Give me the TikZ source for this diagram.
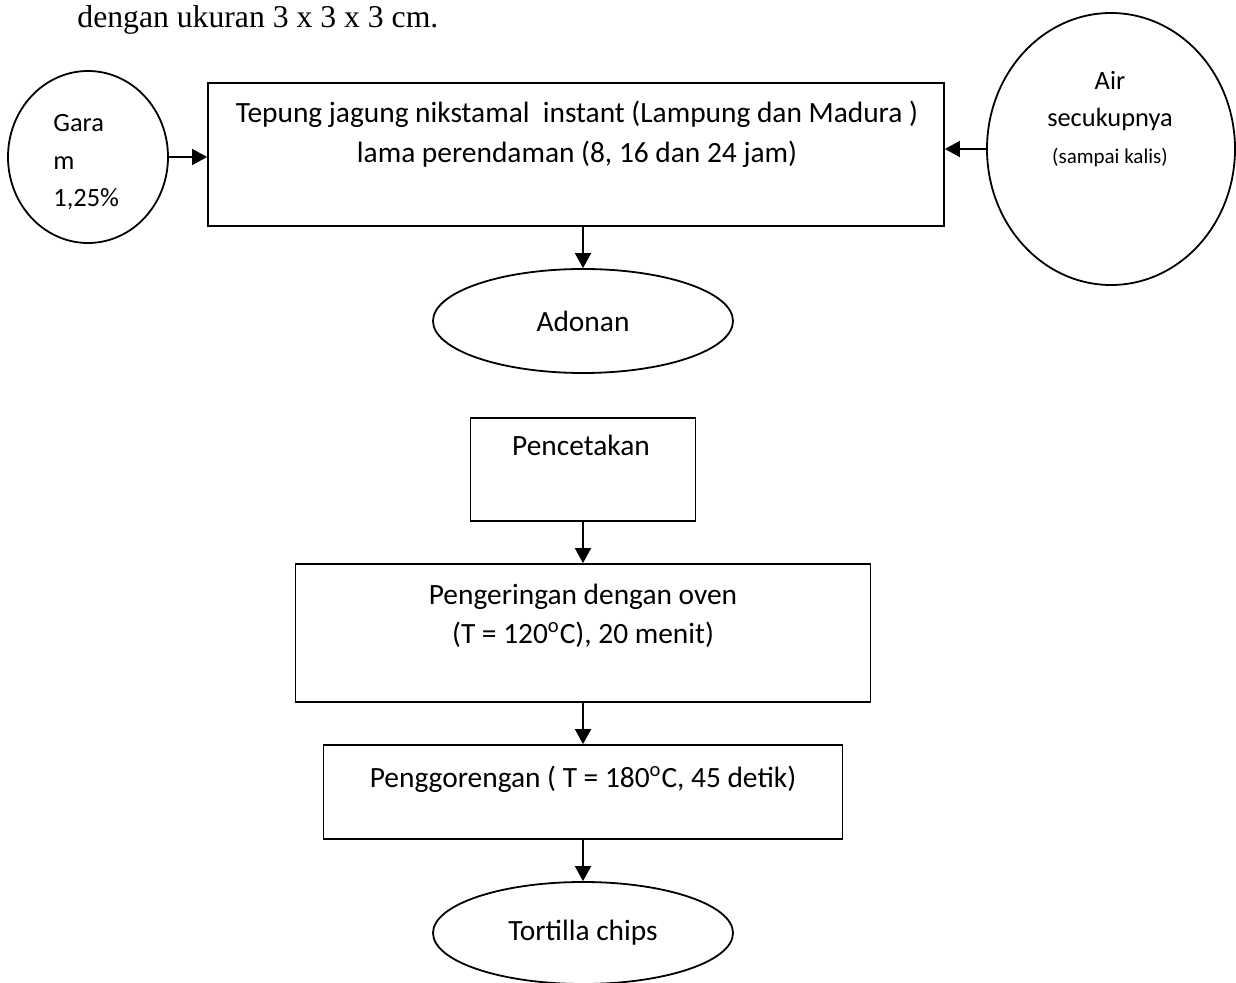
\documentclass[tikz,border=0pt]{standalone}
\usepackage{fontspec}
\setmainfont{Carlito}
\newfontfamily\timesfont{Liberation Serif}
\usetikzlibrary{arrows.meta,shapes.geometric}
\begin{document}
\begin{tikzpicture}[x=0.5pt,y=-0.5pt,
  box/.style={draw,line width=0.9pt,inner sep=0pt},
  oval/.style={draw,ellipse,line width=0.9pt,inner sep=0pt,font=\fontsize{14.7}{20}\selectfont},
  arr/.style={line width=0.9pt,-{Triangle[length=7.5pt,width=8pt]}},
  txt/.style={inner sep=0pt,anchor=base,align=center,font=\fontsize{14.7}{20}\selectfont}]
\useasboundingbox (0,0) rectangle (1236,983);
\node[txt,anchor=base west,font=\timesfont\fontsize{15.85}{19}\selectfont] (judul) at (77,28) {dengan ukuran 3 x 3 x 3 cm.};
% bahan tambahan
\node[oval,minimum width=80pt,minimum height=86pt] (garam) at (88,157) {};
\node[txt,anchor=base west,align=left,font=\fontsize{13.2}{18.75}\selectfont] (garamtxt) at (53,207) {Gara\\m\\1,25\%};
\node[oval,minimum width=124pt,minimum height=136pt] (air) at (1111,149) {};
\node[txt,font=\fontsize{13.2}{18.5}\selectfont] (airtxt) at (1110,164) {Air\\secukupnya\\{\fontsize{10.5}{12}\selectfont (sampai kalis)}};
% alur proses
\node[box,minimum width=368pt,minimum height=71.5pt] (tepung) at (576,154.5) {};
\node[txt] (tepungtxt) at (577,163) {Tepung jagung nikstamal~ instant (Lampung dan Madura )\\lama perendaman (8, 16 dan 24 jam)};
\node[oval,minimum width=150pt,minimum height=52pt] (adonan) at (583,321) {Adonan};
\node[box,minimum width=112.5pt,minimum height=51.5pt] (cetak) at (583,469.5) {};
\node[txt] (cetaktxt) at (581,456) {Pencetakan};
\node[box,minimum width=287.5pt,minimum height=69pt] (oven) at (583,633) {};
\node[txt,font=\fontsize{14.7}{19.5}\selectfont] (oventxt) at (583,643) {Pengeringan dengan oven\\(T = 120\textsuperscript{o}C), 20 menit)};
\node[box,minimum width=259.5pt,minimum height=47pt] (goreng) at (583,792) {};
\node[txt] (gorengtxt) at (583,787) {Penggorengan ( T = 180\textsuperscript{o}C, 45 detik)};
\node[oval,minimum width=150pt,minimum height=51pt] (chips) at (583,933) {Tortilla chips};
% panah
\draw[arr] (garam.east) -- (tepung.west |- garam.east);
\draw[arr] (air.west) -- (tepung.east |- air.west);
\draw[arr] (tepung.south -| adonan.north) -- (adonan.north);
\draw[arr] (cetak.south) -- (oven.north);
\draw[arr] (oven.south) -- (goreng.north);
\draw[arr] (goreng.south) -- (chips.north);
\end{tikzpicture}
\end{document}
